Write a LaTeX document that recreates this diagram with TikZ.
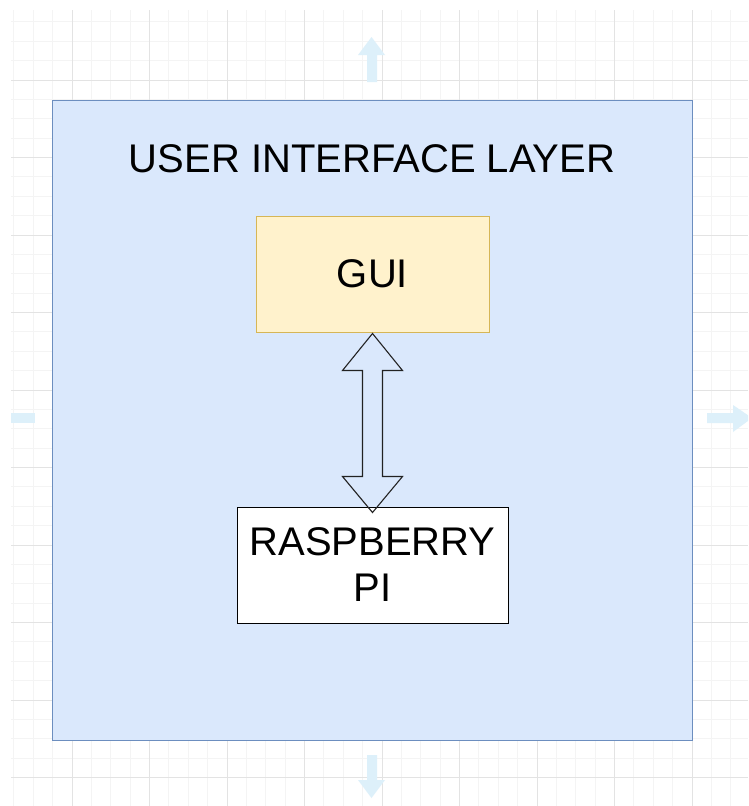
\documentclass[tikz,border=0pt]{standalone}
\usepackage{fontspec}
\setmainfont{Liberation Sans}
\usetikzlibrary{calc}
\definecolor{layerfill}{HTML}{DAE8FC}
\definecolor{layerdraw}{HTML}{6C8EBF}
\definecolor{guifill}{HTML}{FFF2CC}
\definecolor{guidraw}{HTML}{D6B656}
\definecolor{minorgrid}{HTML}{F4F4F4}
\definecolor{majorgrid}{HTML}{E3E3E3}
\definecolor{hintblue}{HTML}{DDF0FA}
\definecolor{arrowdraw}{HTML}{222222}
\begin{document}
\begin{tikzpicture}[x=1pt,y=-1pt,
  bigtext/.style={font=\fontsize{40}{46}\selectfont, text=black},
  layerbox/.style={draw=layerdraw, fill=layerfill, line width=1pt, minimum width=640pt, minimum height=640pt, inner sep=0pt},
  guibox/.style={draw=guidraw, fill=guifill, line width=1pt, minimum width=233pt, minimum height=116pt, inner sep=0pt, bigtext},
  rpibox/.style={draw=black, fill=white, line width=1pt, minimum width=271pt, minimum height=116pt, inner sep=0pt, align=center, bigtext},
  hint/.style={fill=hintblue, draw=none},
  dblarrow/.style={draw=arrowdraw, line width=1.1pt, line join=miter, fill=none}
]
\useasboundingbox (0,0) rectangle (748,806);
\fill[white] (0,0) rectangle (748,806);
% grid
\begin{scope}
\clip (11,10) rectangle (748,806);
\foreach \i in {-3,...,35} {
  \draw[minorgrid, line width=1pt] ({72+19.375*\i},10) -- ({72+19.375*\i},806);
  \draw[minorgrid, line width=1pt] (11,{80+19.375*\i}) -- (748,{80+19.375*\i});
}
\foreach \i in {-1,...,9} {
  \draw[majorgrid, line width=1pt] ({72+77.5*\i},10) -- ({72+77.5*\i},806);
  \draw[majorgrid, line width=1pt] (11,{80+77.5*\i}) -- (748,{80+77.5*\i});
}
% hint arrows
\fill[hint] (371.5,37) -- (385,55) -- (377,55) -- (377,82) -- (367,82) -- (367,55) -- (358,55) -- cycle;
\fill[hint] (371.5,798) -- (385,780) -- (377,780) -- (377,755) -- (367,755) -- (367,780) -- (358,780) -- cycle;
\fill[hint] (11,413) rectangle (35,423);
\fill[hint] (752,418) -- (733,405) -- (733,413) -- (707,413) -- (707,423) -- (733,423) -- (733,432) -- cycle;
\end{scope}
% main layer
\node[layerbox] (layer) at (372,420) {};
\node[bigtext, anchor=base] (title) at (372,172) {USER INTERFACE LAYER};
\node[guibox] (gui) at (372.5,274) {GUI};
\node[rpibox] (rpi) at (372.5,565) {RASPBERRY\\PI};
% double arrow
\coordinate (tt) at ($(gui.south)+(0,1)$);
\coordinate (bt) at ($(rpi.north)+(0,6)$);
\draw[dblarrow] (tt) -- ($(tt)+(30,37)$) -- ($(tt)+(10,37)$) -- ($(bt)+(10,-36)$) -- ($(bt)+(30,-36)$) -- (bt)
  -- ($(bt)+(-30,-36)$) -- ($(bt)+(-10,-36)$) -- ($(tt)+(-10,37)$) -- ($(tt)+(-30,37)$) -- cycle;
\end{tikzpicture}
\end{document}
